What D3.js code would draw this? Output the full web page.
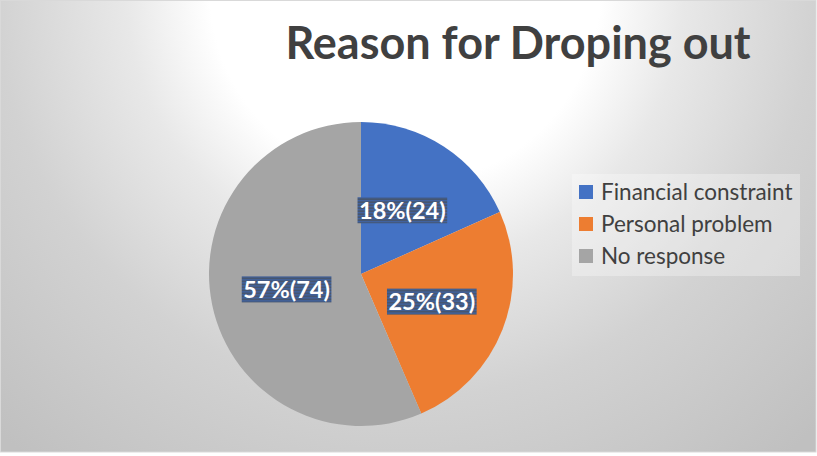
<!DOCTYPE html>
<html>
<head>
<meta charset="utf-8">
<script src="https://cdn.jsdelivr.net/npm/d3@7"></script>
<style>
  html, body { margin: 0; padding: 0; background: #ffffff; }
  svg { display: block; }
  text { font-family: Lato, "Open Sans", sans-serif; }
</style>
</head>
<body>
<svg id="chart" width="817" height="456"></svg>
<script>
// Responses grouped by reason for dropping out
const categories = ["Financial constraint", "Personal problem", "No response"];
const counts = [24, 33, 74];
const percentLabels = [18, 25, 57];
const colors = ["#4472C4", "#ED7D31", "#A5A5A5"];
const title = "Reason for Droping out";

const frameW = 816, frameH = 452;
const cx = 361, cy = 274, R = 152;

const svg = d3.select("#chart");
const defs = svg.append("defs");

// Soft radial fill behind the chart
const grad = defs.append("radialGradient")
  .attr("id", "bg")
  .attr("gradientUnits", "userSpaceOnUse")
  .attr("cx", 405).attr("cy", -11).attr("r", 620);
[[0, "#ffffff"], [0.315, "#ffffff"], [0.45, "#e8e8e8"], [0.66, "#d2d2d2"], [0.97, "#c0c0c0"], [1, "#c0c0c0"]]
  .forEach(([o, c]) => grad.append("stop").attr("offset", o).attr("stop-color", c));

// Striped fill used behind the data labels
const pat = defs.append("pattern")
  .attr("id", "labelFill")
  .attr("patternUnits", "userSpaceOnUse")
  .attr("width", 4).attr("height", 3);
pat.append("rect").attr("width", 4).attr("height", 3).attr("fill", "#465670");
pat.append("rect").attr("y", 2).attr("width", 4).attr("height", 1).attr("fill", "#3f66ae");

svg.append("rect")
  .attr("x", 0.5).attr("y", 0.5)
  .attr("width", frameW - 0.5).attr("height", frameH - 0.5)
  .attr("fill", "url(#bg)")
  .attr("stroke", "#d9d9d9").attr("stroke-width", 1);

svg.append("text")
  .attr("x", 518).attr("y", 59)
  .attr("text-anchor", "middle")
  .attr("font-size", 45)
  .attr("font-weight", 700)
  .attr("fill", "#404040")
  .text(title);

const data = categories.map((c, i) => ({ name: c, value: counts[i], pct: percentLabels[i], color: colors[i] }));

const pie = d3.pie().value(d => d.value).sort(null);
const arc = d3.arc().innerRadius(0).outerRadius(R);
const arcs = pie(data);

const g = svg.append("g").attr("transform", `translate(${cx},${cy})`);

g.selectAll("path.slice")
  .data(arcs)
  .join("path")
  .attr("class", "slice")
  .attr("d", arc)
  .attr("fill", d => d.data.color);

// Data labels: percentage with the count in brackets, on the slice centroid
const labels = g.selectAll("g.lbl")
  .data(arcs)
  .join("g")
  .attr("class", "lbl")
  .attr("transform", d => `translate(${arc.centroid(d)})`);

labels.each(function(d) {
  const sel = d3.select(this);
  const t = sel.append("text")
    .attr("text-anchor", "middle")
    .attr("dy", "0.36em")
    .attr("font-size", 23.5)
    .attr("font-weight", 700)
    .attr("fill", "#ffffff")
    .text(`${d.data.pct}%(${d.data.value})`);
  const bb = t.node().getBBox();
  sel.insert("rect", "text")
    .attr("x", bb.x - 1.5).attr("y", -13)
    .attr("width", bb.width + 3).attr("height", 26)
    .attr("fill", "url(#labelFill)");
});

// Legend
const lg = svg.append("g").attr("transform", "translate(572,174)");
lg.append("rect")
  .attr("width", 228).attr("height", 102)
  .attr("fill", "#ffffff").attr("fill-opacity", 0.3);

const items = lg.selectAll("g.item")
  .data(data)
  .join("g")
  .attr("class", "item")
  .attr("transform", (d, i) => `translate(0,${18 + i * 32})`);

items.append("rect")
  .attr("x", 7).attr("y", -7)
  .attr("width", 14).attr("height", 14)
  .attr("fill", d => d.color);

items.append("text")
  .attr("x", 29).attr("dy", "0.36em")
  .attr("font-size", 22.5)
  .attr("fill", "#404040")
  .text(d => d.name);
</script>
</body>
</html>
